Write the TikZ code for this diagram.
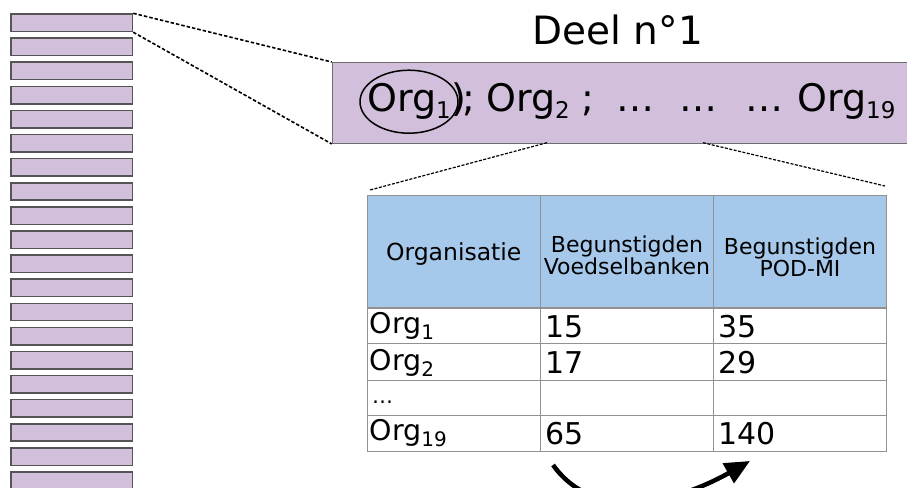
\documentclass[tikz,border=0pt]{standalone}
\usepackage{fontspec}
\setmainfont{DejaVu Sans}
\usetikzlibrary{arrows.meta}
\definecolor{lav}{RGB}{209,191,220}
\definecolor{barline}{RGB}{85,85,85}
\definecolor{boxline}{RGB}{110,110,110}
\definecolor{hdr}{RGB}{166,201,235}
\definecolor{gridc}{RGB}{145,145,145}
\newcommand{\lowsub}[3]{\raisebox{-#2pt}{\fontsize{#1}{#1}\selectfont #3}}
\begin{document}
\begin{tikzpicture}[x=1pt,y=-1pt,
  bar/.style={draw=barline, line width=1.5pt, fill=lav, minimum width=121.7pt,
    minimum height=17.4pt, inner sep=0pt, anchor=north west},
  dotline/.style={line width=1.6pt, dash pattern=on 3.5pt off 2pt},
  dotthin/.style={line width=1.2pt, dash pattern=on 3pt off 1.5pt},
  orgtxt/.style={anchor=base west, inner sep=0pt, font=\fontsize{38}{38}\selectfont},
  hdrtxt/.style={anchor=base, inner sep=0pt, font=\fontsize{22}{22}\selectfont},
  rowtxt/.style={anchor=base west, inner sep=0pt, font=\fontsize{28.5}{28.5}\selectfont},
  numtxt/.style={anchor=base west, inner sep=0pt, font=\fontsize{30}{30}\selectfont},
  gridline/.style={draw=gridc, line width=1pt}]
\clip (0,0) rectangle (907,487);
\fill[white] (0,0) rectangle (907,487);
% left bars
\foreach \k in {0,...,19} {
  \node[bar] (b\k) at (10,{13.3+24.1*\k}) {};
}
% big box
\node[anchor=north west, draw=boxline, line width=1.2pt, fill=lav,
  minimum width=600pt, minimum height=80.7pt, inner sep=0pt] (box) at (331.7,62) {};
\draw[dotline] (b0.north east) -- (box.north west);
\draw[dotline] (b0.south east) -- (box.south west);
% title
\node[anchor=base, inner sep=0pt, font=\fontsize{39}{39}\selectfont] (deel) at (617.8,45) {Deel n°1};
% org line
\node[orgtxt] (o1) at (367,111.5) {Org\lowsub{23}{7}{1}};
\node[orgtxt] (o1p) at (451.5,111.5) {)\kern-4pt;};
\node[orgtxt] (o2) at (486,111.5) {Org\lowsub{23}{7}{2} ;};
\node[orgtxt] (d1) at (616,111.5) {…};
\node[orgtxt] (d2) at (679,111.5) {…};
\node[orgtxt] (d3) at (745,111.5) {…};
\node[orgtxt] (o19) at (797,111.5) {Org\lowsub{23}{7}{19}};
\draw[line width=1.5pt] (409,101.7) ellipse [x radius=49pt, y radius=31.5pt];
% table
\fill[hdr] (367,195) rectangle (886,308);
\draw[gridline] (540.5,195) -- (540.5,451);
\draw[gridline] (713.5,195) -- (713.5,451);
\draw[gridline, line width=1.6pt] (367,308) -- (886,308);
\draw[gridline] (367,343.5) -- (886,343.5);
\draw[gridline] (367,380) -- (886,380);
\draw[gridline] (367,415.5) -- (886,415.5);
\node[draw=gridc, line width=1pt, minimum width=519pt, minimum height=256pt,
  inner sep=0pt, anchor=north west] (tab) at (367,195) {};
% box to table connectors
\coordinate (bx1) at (547,142.7);
\coordinate (bx2) at (703,142.7);
\coordinate (tb1) at (370,190);
\coordinate (tb2) at (885,186);
\draw[dotthin] (bx1) -- (tb1);
\draw[dotthin] (bx2) -- (tb2);
% header
\node[hdrtxt, font=\fontsize{23.5}{23.5}\selectfont] (h1) at (453.7,260) {Organisatie};
\node[hdrtxt] (h2a) at (627,252) {Begunstigden};
\node[hdrtxt] (h2b) at (627,274.5) {Voedselbanken};
\node[hdrtxt] (h3a) at (800,254) {Begunstigden};
\node[hdrtxt] (h3b) at (800,276.7) {POD-MI};
% rows
\node[rowtxt] (r1) at (369.5,333.5) {Org\lowsub{20}{6}{1}};
\node[rowtxt] (r2) at (369.5,370) {Org\lowsub{20}{6}{2}};
\node[rowtxt, font=\fontsize{21}{21}\selectfont] (r3) at (372,403.5) {…};
\node[rowtxt] (r4) at (369.5,440) {Org\lowsub{20}{6}{19}};
\node[numtxt] (n11) at (545,337.5) {15};
\node[numtxt] (n21) at (545,373.3) {17};
\node[numtxt] (n41) at (545,444.3) {65};
\node[numtxt] (n12) at (718.5,337.5) {35};
\node[numtxt] (n22) at (718.5,373.3) {29};
\node[numtxt] (n42) at (718.5,444.3) {140};
% bottom arrow
\coordinate (a1) at (553,465);
\coordinate (a2) at (750,461);
\draw[line width=4.5pt, -{Triangle[length=25pt,width=22pt]}] (a1) .. controls (600,530) and (690,495) .. (a2);
\end{tikzpicture}
\end{document}
